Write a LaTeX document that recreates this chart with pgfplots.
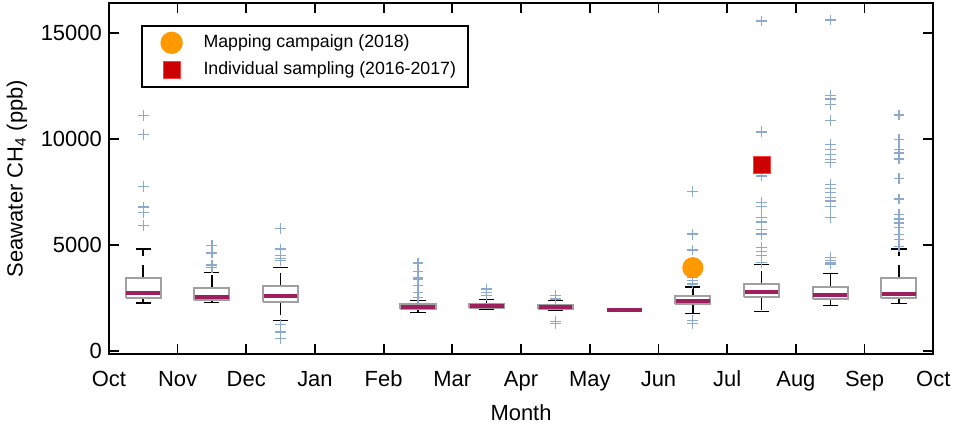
\documentclass[border=0pt]{standalone}
\usepackage{fontspec}
\setmainfont{Liberation Sans}
\usepackage{pgfplots}
\pgfplotsset{compat=1.18}
\definecolor{boxgray}{RGB}{160,160,160}
\definecolor{medc}{RGB}{158,31,94}
\definecolor{outc}{RGB}{140,170,206}
\definecolor{orangeC}{RGB}{255,153,0}
\definecolor{redC}{RGB}{204,0,0}
% #1 month index, #2 lower whisker, #3 lower quartile, #4 median, #5 upper quartile, #6 upper whisker
\newcommand\mybox[6]{%
  \addplot[forget plot, black, line width=0.7pt, dash pattern=on 6.5pt off 4.5pt] coordinates {(#1.5,#3)(#1.5,#2)};
  \addplot[forget plot, black, line width=0.7pt, dash pattern=on 6.5pt off 4.5pt] coordinates {(#1.5,#5)(#1.5,#6)};
  \addplot[forget plot, black, line width=0.7pt] coordinates {(#1.39,#2)(#1.61,#2)};
  \addplot[forget plot, black, line width=0.7pt] coordinates {(#1.39,#6)(#1.61,#6)};
  \addplot[forget plot, draw=boxgray, fill=white, line width=1pt, line join=miter] coordinates {(#1.245,#3)(#1.755,#3)(#1.755,#5)(#1.245,#5)(#1.245,#3)};
  \addplot[forget plot, medc, line width=2pt] coordinates {(#1.255,#4)(#1.745,#4)};
}
\begin{document}
\begin{tikzpicture}
\begin{axis}[
  scale only axis,
  width=413.5pt, height=176pt,
  xmin=0, xmax=12,
  ymin=-150, ymax=16420,
  scaled y ticks=false,
  xtick={0,1,...,12},
  xticklabels={Oct,Nov,Dec,Jan,Feb,Mar,Apr,May,Jun,Jul,Aug,Sep,Oct},
  ytick={0,5000,10000,15000},
  yticklabels={0,5000,10000,15000},
  tick align=inside,
  tick pos=both,
  major tick length=5pt,
  tick style={line width=0.9pt, black},
  axis line style={line width=1pt},
  ticklabel style={font=\fontsize{11}{13}\selectfont},
  xticklabel style={yshift=-5pt},
  label style={font=\fontsize{11}{13}\selectfont},
  xlabel={Month},
  ylabel={Seawater CH\textsubscript{4} (ppb)},
  clip=false,
  legend style={at={(0.0387,0.9375)}, anchor=north west, draw=black, line width=1pt,
    font=\fontsize{8.9}{10.4}\selectfont, inner xsep=4pt, inner ysep=2.5pt, row sep=1.5pt},
  legend cell align=left,
  legend image code/.code={\path (0pt,0pt) (24pt,0pt); \draw[#1] plot coordinates {(10.5pt,0pt)};},
]
\mybox{0}{2258}{2477}{2713}{3450}{4798}   % Oct
\mybox{1}{2273}{2414}{2556}{2948}{3683}   % Nov
\mybox{2}{1426}{2320}{2603}{3057}{3920}   % Dec
\mybox{4}{1803}{1960}{2070}{2195}{2383}   % Feb
\mybox{5}{1944}{2007}{2117}{2226}{2414}   % Mar
\mybox{6}{1913}{1976}{2070}{2179}{2367}   % Apr
\addplot[forget plot, medc, line width=2pt] coordinates {(7.245,1913)(7.755,1913)}; % May
\mybox{8}{1756}{2211}{2337}{2603}{3011}   % Jun
\mybox{9}{1850}{2524}{2759}{3152}{4063}   % Jul
\mybox{10}{2148}{2446}{2634}{2994}{3651}  % Aug
\mybox{11}{2242}{2477}{2697}{3418}{4800}  % Sep
% outliers
\addplot[forget plot, only marks, mark=+, mark size=2.7pt, mark options={draw=outc, line width=0.65pt}] table {
x y
0.5 11117
0.5 10208
0.5 7747
0.5 6789
0.5 6524
0.5 5927
1.5 4955
1.5 4610
1.5 4050
1.5 4013
1.5 3935
2.5 5786
2.5 4798
2.5 4484
2.5 4359
2.5 4250
2.5 1223
2.5 909
2.5 847
2.5 564
4.5 4140
4.5 3731
4.5 3465
4.5 3387
4.5 3073
4.5 2759
4.5 2524
5.5 2917
5.5 2759
5.5 2602
6.5 2602
6.5 2446
6.5 1380
6.5 1270
8.5 7513
8.5 5505
8.5 4753
8.5 3588
8.5 3465
8.5 3307
8.5 3152
8.5 1426
8.5 1270
9.5 15570
9.5 10334
9.5 8247
9.5 6993
9.5 6805
9.5 6288
9.5 6084
9.5 5740
9.5 5505
9.5 4878
9.5 4674
9.5 4486
9.5 4172
10.5 15617
10.5 12043
10.5 11886
10.5 11620
10.5 10868
10.5 9739
10.5 9504
10.5 9269
10.5 9034
10.5 8877
10.5 7858
10.5 7654
10.5 7466
10.5 7231
10.5 7074
10.5 6805
10.5 6288
10.5 4408
10.5 4250
10.5 4172
10.5 4100
11.5 11132
11.5 9958
11.5 9488
11.5 9331
11.5 9049
11.5 8122
11.5 7168
11.5 6430
11.5 6226
11.5 6038
11.5 5803
11.5 5490
11.5 5254
11.5 4909
};
% markers
\addplot[only marks, mark=*, mark size=5.1pt, mark options={draw=orangeC, fill=orangeC}] coordinates {(8.5,3920)};
\addlegendentry{Mapping campaign (2018)}
\addplot[only marks, mark=square*, mark size=4.25pt, mark options={draw=red!75!white, fill=redC, line width=0.5pt}] coordinates {(9.5,8765)};
\addlegendentry{Individual sampling (2016-2017)}
\end{axis}
\path ([xshift=-54pt,yshift=-34.5pt]current axis.south west) rectangle ([xshift=11pt,yshift=1.5pt]current axis.north east);
\end{tikzpicture}
\end{document}
